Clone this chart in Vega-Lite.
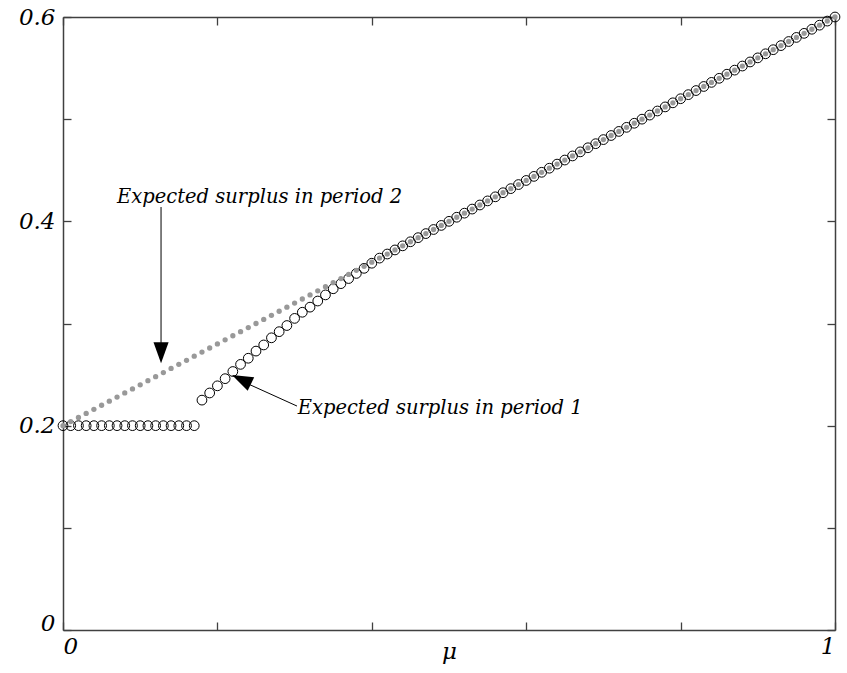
{
  "$schema": "https://vega.github.io/schema/vega-lite/v6.json",
  "width": 772,
  "height": 613,
  "autosize": "none",
  "padding": {"left": 63, "top": 17, "right": 12, "bottom": 43},
  "background": "white",
  "config": {
    "view": {"stroke": null},
    "axis": {
      "grid": false,
      "domainColor": "#404040",
      "domainWidth": 1.5,
      "tickColor": "#404040",
      "tickWidth": 1.3,
      "tickSize": -8,
      "labelFont": "DejaVu Serif",
      "labelFontStyle": "italic",
      "labelFontSize": 23,
      "labelColor": "black",
      "titleFont": "DejaVu Serif",
      "titleFontStyle": "italic",
      "titleFontWeight": "normal",
      "titleFontSize": 23,
      "titleColor": "black"
    }
  },
  "datasets": {
    "series": [
      {"mu": 0.00, "p1": 0.2, "p2": 0.2},
      {"mu": 0.01, "p1": 0.2, "p2": 0.204},
      {"mu": 0.02, "p1": 0.2, "p2": 0.208},
      {"mu": 0.03, "p1": 0.2, "p2": 0.212},
      {"mu": 0.04, "p1": 0.2, "p2": 0.216},
      {"mu": 0.05, "p1": 0.2, "p2": 0.22},
      {"mu": 0.06, "p1": 0.2, "p2": 0.224},
      {"mu": 0.07, "p1": 0.2, "p2": 0.228},
      {"mu": 0.08, "p1": 0.2, "p2": 0.232},
      {"mu": 0.09, "p1": 0.2, "p2": 0.236},
      {"mu": 0.10, "p1": 0.2, "p2": 0.24},
      {"mu": 0.11, "p1": 0.2, "p2": 0.244},
      {"mu": 0.12, "p1": 0.2, "p2": 0.248},
      {"mu": 0.13, "p1": 0.2, "p2": 0.252},
      {"mu": 0.14, "p1": 0.2, "p2": 0.256},
      {"mu": 0.15, "p1": 0.2, "p2": 0.26},
      {"mu": 0.16, "p1": 0.2, "p2": 0.264},
      {"mu": 0.17, "p1": 0.2, "p2": 0.268},
      {"mu": 0.18, "p1": 0.225, "p2": 0.272},
      {"mu": 0.19, "p1": 0.232, "p2": 0.276},
      {"mu": 0.20, "p1": 0.239, "p2": 0.28},
      {"mu": 0.21, "p1": 0.246, "p2": 0.284},
      {"mu": 0.22, "p1": 0.253, "p2": 0.288},
      {"mu": 0.23, "p1": 0.26, "p2": 0.292},
      {"mu": 0.24, "p1": 0.266, "p2": 0.296},
      {"mu": 0.25, "p1": 0.273, "p2": 0.3},
      {"mu": 0.26, "p1": 0.279, "p2": 0.304},
      {"mu": 0.27, "p1": 0.286, "p2": 0.308},
      {"mu": 0.28, "p1": 0.292, "p2": 0.312},
      {"mu": 0.29, "p1": 0.298, "p2": 0.316},
      {"mu": 0.30, "p1": 0.305, "p2": 0.32},
      {"mu": 0.31, "p1": 0.311, "p2": 0.324},
      {"mu": 0.32, "p1": 0.316, "p2": 0.328},
      {"mu": 0.33, "p1": 0.322, "p2": 0.332},
      {"mu": 0.34, "p1": 0.328, "p2": 0.336},
      {"mu": 0.35, "p1": 0.334, "p2": 0.34},
      {"mu": 0.36, "p1": 0.339, "p2": 0.344},
      {"mu": 0.37, "p1": 0.344, "p2": 0.348},
      {"mu": 0.38, "p1": 0.349, "p2": 0.352},
      {"mu": 0.39, "p1": 0.354, "p2": 0.356},
      {"mu": 0.40, "p1": 0.359, "p2": 0.36},
      {"mu": 0.41, "p1": 0.364, "p2": 0.364},
      {"mu": 0.42, "p1": 0.368, "p2": 0.368},
      {"mu": 0.43, "p1": 0.372, "p2": 0.372},
      {"mu": 0.44, "p1": 0.376, "p2": 0.376},
      {"mu": 0.45, "p1": 0.38, "p2": 0.38},
      {"mu": 0.46, "p1": 0.384, "p2": 0.384},
      {"mu": 0.47, "p1": 0.388, "p2": 0.388},
      {"mu": 0.48, "p1": 0.392, "p2": 0.392},
      {"mu": 0.49, "p1": 0.396, "p2": 0.396},
      {"mu": 0.50, "p1": 0.4, "p2": 0.4},
      {"mu": 0.51, "p1": 0.404, "p2": 0.404},
      {"mu": 0.52, "p1": 0.408, "p2": 0.408},
      {"mu": 0.53, "p1": 0.412, "p2": 0.412},
      {"mu": 0.54, "p1": 0.416, "p2": 0.416},
      {"mu": 0.55, "p1": 0.42, "p2": 0.42},
      {"mu": 0.56, "p1": 0.424, "p2": 0.424},
      {"mu": 0.57, "p1": 0.428, "p2": 0.428},
      {"mu": 0.58, "p1": 0.432, "p2": 0.432},
      {"mu": 0.59, "p1": 0.436, "p2": 0.436},
      {"mu": 0.60, "p1": 0.44, "p2": 0.44},
      {"mu": 0.61, "p1": 0.444, "p2": 0.444},
      {"mu": 0.62, "p1": 0.448, "p2": 0.448},
      {"mu": 0.63, "p1": 0.452, "p2": 0.452},
      {"mu": 0.64, "p1": 0.456, "p2": 0.456},
      {"mu": 0.65, "p1": 0.46, "p2": 0.46},
      {"mu": 0.66, "p1": 0.464, "p2": 0.464},
      {"mu": 0.67, "p1": 0.468, "p2": 0.468},
      {"mu": 0.68, "p1": 0.472, "p2": 0.472},
      {"mu": 0.69, "p1": 0.476, "p2": 0.476},
      {"mu": 0.70, "p1": 0.48, "p2": 0.48},
      {"mu": 0.71, "p1": 0.484, "p2": 0.484},
      {"mu": 0.72, "p1": 0.488, "p2": 0.488},
      {"mu": 0.73, "p1": 0.492, "p2": 0.492},
      {"mu": 0.74, "p1": 0.496, "p2": 0.496},
      {"mu": 0.75, "p1": 0.5, "p2": 0.5},
      {"mu": 0.76, "p1": 0.504, "p2": 0.504},
      {"mu": 0.77, "p1": 0.508, "p2": 0.508},
      {"mu": 0.78, "p1": 0.512, "p2": 0.512},
      {"mu": 0.79, "p1": 0.516, "p2": 0.516},
      {"mu": 0.80, "p1": 0.52, "p2": 0.52},
      {"mu": 0.81, "p1": 0.524, "p2": 0.524},
      {"mu": 0.82, "p1": 0.528, "p2": 0.528},
      {"mu": 0.83, "p1": 0.532, "p2": 0.532},
      {"mu": 0.84, "p1": 0.536, "p2": 0.536},
      {"mu": 0.85, "p1": 0.54, "p2": 0.54},
      {"mu": 0.86, "p1": 0.544, "p2": 0.544},
      {"mu": 0.87, "p1": 0.548, "p2": 0.548},
      {"mu": 0.88, "p1": 0.552, "p2": 0.552},
      {"mu": 0.89, "p1": 0.556, "p2": 0.556},
      {"mu": 0.90, "p1": 0.56, "p2": 0.56},
      {"mu": 0.91, "p1": 0.564, "p2": 0.564},
      {"mu": 0.92, "p1": 0.568, "p2": 0.568},
      {"mu": 0.93, "p1": 0.572, "p2": 0.572},
      {"mu": 0.94, "p1": 0.576, "p2": 0.576},
      {"mu": 0.95, "p1": 0.58, "p2": 0.58},
      {"mu": 0.96, "p1": 0.584, "p2": 0.584},
      {"mu": 0.97, "p1": 0.588, "p2": 0.588},
      {"mu": 0.98, "p1": 0.592, "p2": 0.592},
      {"mu": 0.99, "p1": 0.596, "p2": 0.596},
      {"mu": 1.00, "p1": 0.6, "p2": 0.6}
    ],
    "notes": [
      {"mu": 0.070, "v": 0.4238, "label": "Expected surplus in period 2"},
      {"mu": 0.304, "v": 0.2173, "label": "Expected surplus in period 1"}
    ],
    "arrows": [
      {"mu": 0.127, "v": 0.414, "mu2": 0.127, "v2": 0.27},
      {"mu": 0.3031, "v": 0.2192, "mu2": 0.235, "v2": 0.2425}
    ],
    "tip2": [{"mu": 0.127, "v": 0.261}],
    "tip1": [{"mu": 0.2189, "v": 0.2496}]
  },
  "resolve": {"axis": {"x": "independent", "y": "independent"}},
  "layer": [
    {
      "data": {"name": "series"},
      "mark": {"type": "point", "filled": false, "stroke": "black", "strokeWidth": 1, "size": 95, "opacity": 1},
      "encoding": {
        "x": {
          "field": "mu", "type": "quantitative",
          "scale": {"domain": [0, 1], "nice": false, "zero": false},
          "axis": {
            "orient": "bottom",
            "values": [0, 0.2, 0.4, 0.6, 0.8, 1],
            "labelExpr": "datum.value == 0 ? '0' : (datum.value == 1 ? '1' : '')",
            "labelPadding": 13,
            "labelFlush": true,
            "title": "μ",
            "titleY": 28,
            "titleBaseline": "alphabetic"
          }
        },
        "y": {
          "field": "p1", "type": "quantitative",
          "scale": {"domain": [0, 0.6], "nice": false, "zero": false},
          "axis": {
            "orient": "left",
            "values": [0, 0.1, 0.2, 0.3, 0.4, 0.5, 0.6],
            "labelExpr": "datum.value == 0 ? '0' : (abs(datum.value - 0.2) < 0.001 ? '0.2' : (abs(datum.value - 0.4) < 0.001 ? '0.4' : (abs(datum.value - 0.6) < 0.001 ? '0.6' : '')))",
            "labelPadding": 16,
            "labelFlush": false,
            "labelBaseline": "middle",
            "labelOffset": {"condition": {"test": "datum.value == 0", "value": -7}, "value": 0},
            "title": null
          }
        }
      }
    },
    {
      "data": {"name": "series"},
      "mark": {"type": "point", "filled": true, "color": "#999999", "size": 28, "opacity": 1},
      "encoding": {
        "x": {
          "field": "mu", "type": "quantitative",
          "scale": {"domain": [0, 1], "nice": false, "zero": false},
          "axis": {"orient": "top", "values": [0, 0.2, 0.4, 0.6, 0.8, 1], "labels": false, "title": null}
        },
        "y": {
          "field": "p2", "type": "quantitative",
          "scale": {"domain": [0, 0.6], "nice": false, "zero": false},
          "axis": {"orient": "right", "values": [0, 0.1, 0.2, 0.3, 0.4, 0.5, 0.6], "labels": false, "title": null}
        }
      }
    },
    {
      "data": {"name": "arrows"},
      "mark": {"type": "rule", "color": "black", "strokeWidth": 1},
      "encoding": {
        "x": {"field": "mu", "type": "quantitative", "scale": {"domain": [0, 1], "nice": false, "zero": false}, "axis": null},
        "y": {"field": "v", "type": "quantitative", "scale": {"domain": [0, 0.6], "nice": false, "zero": false}, "axis": null},
        "x2": {"field": "mu2"},
        "y2": {"field": "v2"}
      }
    },
    {
      "data": {"name": "tip2"},
      "mark": {"type": "point", "shape": "M -0.36 -1 L 0.36 -1 L 0 0 Z", "filled": true, "color": "black", "size": 1764, "opacity": 1, "angle": 0},
      "encoding": {
        "x": {"field": "mu", "type": "quantitative", "scale": {"domain": [0, 1], "nice": false, "zero": false}, "axis": null},
        "y": {"field": "v", "type": "quantitative", "scale": {"domain": [0, 0.6], "nice": false, "zero": false}, "axis": null}
      }
    },
    {
      "data": {"name": "tip1"},
      "mark": {"type": "point", "shape": "M -0.36 -1 L 0.36 -1 L 0 0 Z", "filled": true, "color": "black", "size": 1764, "opacity": 1, "angle": 115.5},
      "encoding": {
        "x": {"field": "mu", "type": "quantitative", "scale": {"domain": [0, 1], "nice": false, "zero": false}, "axis": null},
        "y": {"field": "v", "type": "quantitative", "scale": {"domain": [0, 0.6], "nice": false, "zero": false}, "axis": null}
      }
    },
    {
      "data": {"name": "notes"},
      "mark": {"type": "text", "align": "left", "baseline": "middle", "font": "DejaVu Serif", "fontStyle": "italic", "fontSize": 19.5, "color": "black"},
      "encoding": {
        "x": {"field": "mu", "type": "quantitative", "scale": {"domain": [0, 1], "nice": false, "zero": false}, "axis": null},
        "y": {"field": "v", "type": "quantitative", "scale": {"domain": [0, 0.6], "nice": false, "zero": false}, "axis": null},
        "text": {"field": "label"}
      }
    }
  ]
}
